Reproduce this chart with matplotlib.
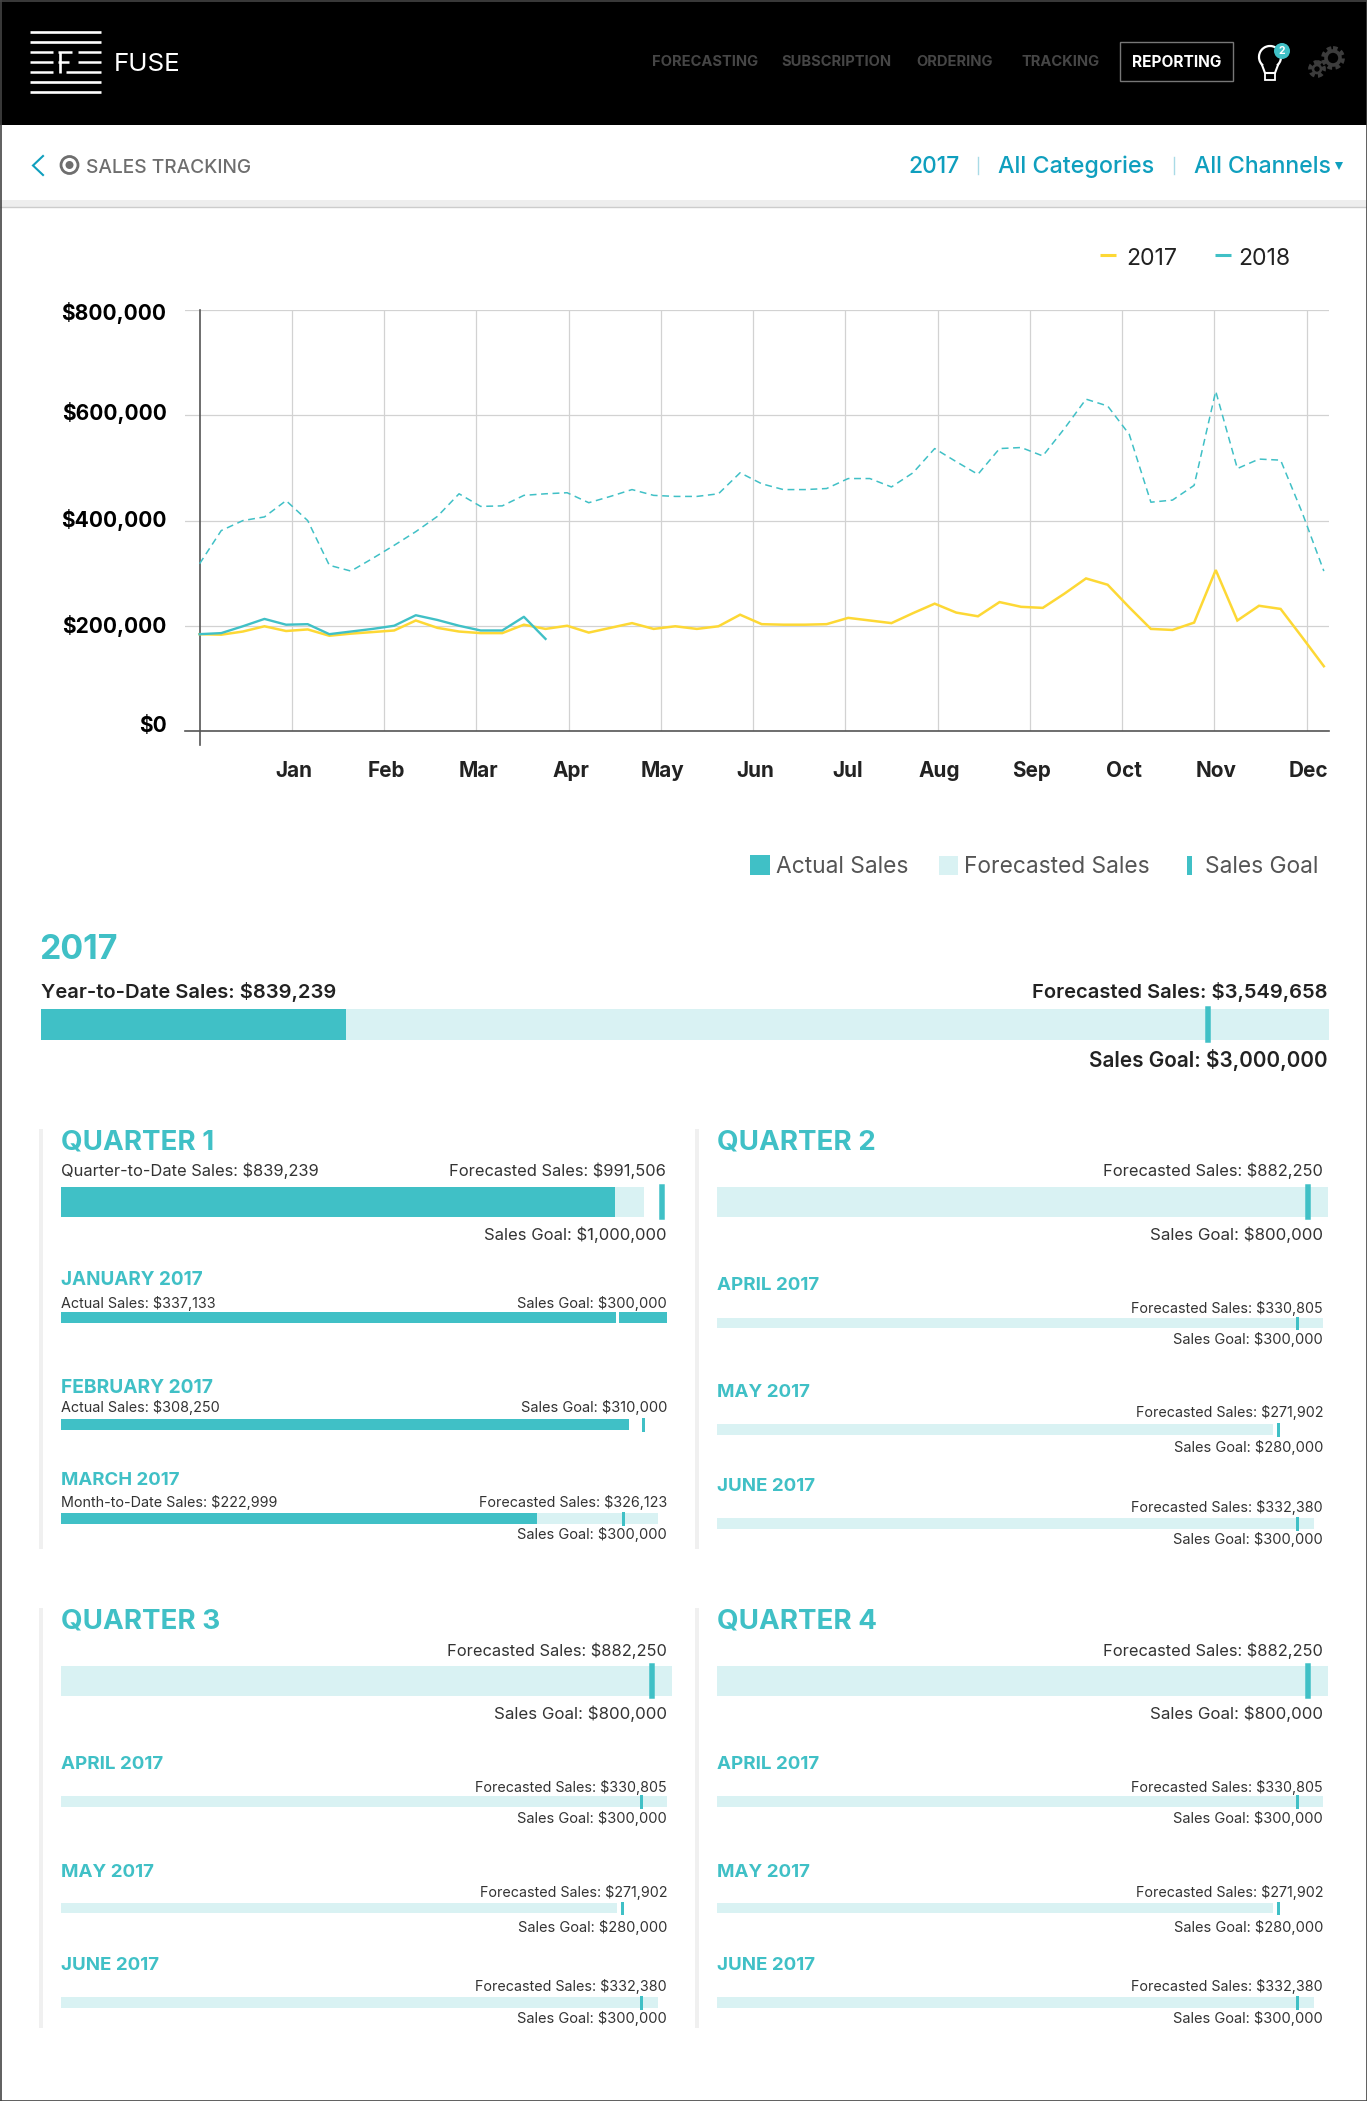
import matplotlib
matplotlib.use("Agg")
import matplotlib.pyplot as plt
from matplotlib.patches import Rectangle, Circle, Polygon, Arc
from matplotlib.transforms import ScaledTranslation

# ---------- data ----------
MONTHS = ["Jan", "Feb", "Mar", "Apr", "May", "Jun", "Jul", "Aug", "Sep", "Oct", "Nov", "Dec"]
Y_TICKS = [0, 200000, 400000, 600000, 800000]
Y_LABELS = ["$0", "$200,000", "$400,000", "$600,000", "$800,000"]
SALES_2017 = [184, 183, 189, 199, 190, 193, 181, 185, 188, 191, 210, 196, 189, 186, 186, 202, 194, 200,
              187, 196, 205, 194, 199, 194, 199, 221, 203, 202, 202, 203, 215, 210, 205, 224, 242, 225,
              218, 245, 236, 234, 261, 290, 278, 235, 194, 192, 206, 306, 210, 238, 232, 178, 123]
FORECAST_2018 = [318, 381, 400, 407, 438, 400, 315, 304, 328, 353, 379, 408, 451, 427, 428, 448, 451, 453,
                 434, 446, 459, 448, 446, 446, 451, 491, 470, 459, 459, 461, 480, 480, 464, 491, 537, 512,
                 488, 537, 539, 523, 575, 631, 618, 564, 435, 439, 467, 646, 499, 517, 515, 415, 304]
ACTUAL_2018 = [184, 186, 199, 213, 202, 203, 184, 189, 194, 200, 220, 211, 200, 191, 191, 217, 175]

# Bar ends, read as percent of each row's track width
YEAR_BAR = dict(actual=23.7, forecast=100.0, goal=90.6)
Q1_BAR = dict(actual=91.4, forecast=96.2, goal=99.2)
JAN_BAR = dict(actual=100.0, forecast=0, goal=91.8)
FEB_BAR = dict(actual=93.7, forecast=0, goal=96.0)
MAR_BAR = dict(actual=78.5, forecast=98.5, goal=92.8)
QF_BAR = dict(actual=0, forecast=100.8, goal=97.5)
APR_BAR = dict(actual=0, forecast=100.0, goal=95.7)
MAY_BAR = dict(actual=0, forecast=91.7, goal=92.5)
JUN_BAR = dict(actual=0, forecast=98.5, goal=95.7)

# ---------- style ----------
W, H = 1367, 2101
TEAL = "#40c0c6"
LIGHT = "#d9f2f3"
YELLOW = "#fdd835"
BLUE = "#0f9fbe"
FONT = ["Inter", "Lato", "DejaVu Sans"]
plt.rcParams["font.family"] = FONT

fig = plt.figure(figsize=(W / 100, H / 100), dpi=100, facecolor="white")
ui = fig.add_axes([0, 0, 1, 1], zorder=0)
ui.set_xlim(0, W)
ui.set_ylim(H, 0)
ui.axis("off")


def px_axes(left, right, top, bottom, z=2):
    return fig.add_axes([left / W, 1 - bottom / H, (right - left) / W, (bottom - top) / H], zorder=z)


def T(x, yc, s, size, color="#333333", ha="left", weight="normal"):
    ui.text(x, yc + size / 2, s, fontsize=size, color=color, ha=ha, va="baseline", weight=weight)


def R(x0, y0, x1, y1, color, z=1):
    ui.add_patch(Rectangle((x0, y0), x1 - x0, y1 - y0, fc=color, ec="none", zorder=z))


# ---------- header ----------
R(0, 0, W, 125, "black")
for y in [32, 42, 82, 92]:
    ui.plot([30, 101], [y, y], color="white", lw=1.9, solid_capstyle="butt")
for y in [52, 62, 72]:
    ui.plot([30, 53], [y, y], color="white", lw=1.8, solid_capstyle="butt")
ui.plot([78, 101], [52, 52], color="white", lw=1.8, solid_capstyle="butt")
ui.plot([78, 101], [62, 62], color="white", lw=1.8, solid_capstyle="butt")
ui.plot([66, 101], [72, 72], color="white", lw=1.8, solid_capstyle="butt")
ui.plot([59.5, 59.5], [52, 73], color="white", lw=1.9, solid_capstyle="butt")
ui.plot([58, 72], [52, 52], color="white", lw=1.8, solid_capstyle="butt")
ui.plot([58, 69], [62, 62], color="white", lw=1.8, solid_capstyle="butt")
T(114, 62, "FUSE", 18.7, "white")

for x, s in [(652, "FORECASTING"), (781, "SUBSCRIPTION"), (916, "ORDERING"), (1021, "TRACKING")]:
    T(x, 61, s, 10.6, "#464646", weight="bold")
ui.add_patch(Rectangle((1120, 42), 113, 39, fc="black", ec="#777777", lw=1, zorder=2))
T(1177, 61, "REPORTING", 11.1, "white", ha="center", weight="bold")

# bulb
ui.add_patch(Arc((1270, 57), 22, 22, theta1=130, theta2=50, ec="white", lw=1.6, zorder=3))
ui.plot([1262, 1265, 1275, 1278], [65, 73, 73, 65], color="white", lw=1.5, zorder=3)
ui.add_patch(Rectangle((1265, 73), 10, 7, fc="none", ec="white", lw=1.3, zorder=3))
ui.add_patch(Circle((1282, 51), 8, fc=TEAL, ec="none", zorder=4))
ui.text(1282, 51, "2", color="white", fontsize=7.5, weight="bold", ha="center", va="center", zorder=5)
# gears
for cx, cy, r, tooth in [(1333, 58, 8.5, 2.6), (1317, 69, 5.5, 1.9)]:
    ui.add_patch(Circle((cx, cy), r + 1.3, fc="none", ec="#3c3c3c", lw=3, ls=(0, (1.1, 0.8)), zorder=3))
    ui.add_patch(Circle((cx, cy), r - 1.5, fc="none", ec="#3c3c3c", lw=tooth, zorder=3))

# ---------- sub header ----------
R(0, 200, W, 207, "#eeeeee")
ui.plot([0, W], [207, 207], color="#cccccc", lw=1)
ui.plot([43, 33, 43], [156, 165.5, 175], color=BLUE, lw=1.5, solid_joinstyle="miter")
ui.add_patch(Circle((69.5, 165), 8.5, fc="none", ec="#6e6e6e", lw=2))
ui.add_patch(Circle((69.5, 165), 4, fc="#6e6e6e", ec="none"))
T(86, 166, "SALES TRACKING", 13.8, "#6e6e6e", weight="medium")
T(908, 165, "2017", 16.4, BLUE, weight="medium")
T(998, 165, "All Categories", 16.8, BLUE, weight="medium")
T(1194, 165, "All Channels", 16.6, BLUE, weight="medium")
ui.plot([978, 978], [157, 174], color="#a9dbe6", lw=1)
ui.plot([1173.5, 1173.5], [157, 174], color="#a9dbe6", lw=1)
ui.add_patch(Polygon([[1335, 162], [1343, 162], [1339, 170]], fc=BLUE, ec="none"))

# ---------- line chart ----------
WEEK = 21.62
X_ORIGIN_PX = 199.6
ax = px_axes(185, 1329, 310.3, 730.9)
ax.set_xlim((185 - X_ORIGIN_PX) / WEEK, (1329 - X_ORIGIN_PX) / WEEK)
ax.set_ylim(0, 800000)
ax.patch.set_alpha(0)
for s in ["top", "left", "right"]:
    ax.spines[s].set_visible(False)
ax.spines["bottom"].set_color("#555555")
ax.spines["bottom"].set_linewidth(1.2)
month_pos = [(i + 1) * 92.25 / WEEK for i in range(12)]
ax.set_xticks(month_pos)
ax.set_xticklabels(MONTHS, fontsize=14.9, weight="bold", color="#222222")
ax.set_yticks(Y_TICKS)
ax.set_yticklabels(Y_LABELS, fontsize=15.1, weight="bold", color="black")
ax.tick_params(axis="both", length=0)
ax.tick_params(axis="x", pad=22)
ax.tick_params(axis="y", pad=13.3)
ax.grid(True, color="#d2d2d2", lw=0.9)
ax.set_axisbelow(True)
for lab, dy in zip(ax.get_yticklabels(), [7, 2, 3, 4, -1]):
    lab.set_transform(lab.get_transform() + ScaledTranslation(0, dy / 100, fig.dpi_scale_trans))
for lab in ax.get_xticklabels():
    lab.set_transform(lab.get_transform() + ScaledTranslation(2 / 100, 0, fig.dpi_scale_trans))
ax.axvline(0, ymin=-14 / 420.6, ymax=1, color="#555555", lw=1.2, clip_on=False, zorder=2.5)
weeks = list(range(len(SALES_2017)))
ax.plot(weeks, [v * 1000 for v in FORECAST_2018], color=TEAL, lw=1.1, ls=(0, (4.5, 3)), zorder=3, clip_on=False)
ax.plot(weeks, [v * 1000 for v in SALES_2017], color=YELLOW, lw=1.8, zorder=4, clip_on=False, solid_joinstyle="miter")
ax.plot(weeks[:len(ACTUAL_2018)], [v * 1000 for v in ACTUAL_2018], color=TEAL, lw=1.7, zorder=5, clip_on=False)

# chart legend
ui.plot([1100, 1116], [255, 255], color=YELLOW, lw=2.2, solid_capstyle="butt")
T(1126, 257, "2017", 16.6, "#222222")
ui.plot([1215, 1231], [255, 255], color=TEAL, lw=2.2, solid_capstyle="butt")
T(1238, 257, "2018", 16.6, "#222222")

# bar legend
R(750, 855, 770, 875, TEAL)
T(776, 865, "Actual Sales", 16.4, "#555555")
R(939, 856, 958, 875, LIGHT)
T(964, 865, "Forecasted Sales", 16.4, "#555555")
R(1187, 856, 1192, 875, TEAL)
T(1205, 865, "Sales Goal", 16.4, "#555555")


# ---------- bars ----------
def bar(left, right, top, bottom, vals, goal_px=3.0, goal_color=TEAL):
    a = px_axes(left, right, top, bottom)
    a.set_xlim(0, 100)
    a.set_ylim(0, 1)
    a.axis("off")
    a.barh(0.5, vals["forecast"], height=1, left=0, color=LIGHT, clip_on=False, zorder=1)
    a.barh(0.5, vals["actual"], height=1, left=0, color=TEAL, clip_on=False, zorder=2)
    a.axvline(vals["goal"], color=goal_color, lw=goal_px * 0.72, zorder=3, clip_on=False)
    return a


DARK = "#222222"
TXT = "#333333"

T(39, 947, "2017", 24.4, TEAL, weight="bold")
T(41, 991, "Year-to-Date Sales: $839,239", 14.5, DARK, weight="semibold")
T(1328, 991, "Forecasted Sales: $3,549,658", 14.5, DARK, ha="right", weight="semibold")
T(1328, 1060, "Sales Goal: $3,000,000", 14.95, DARK, ha="right", weight="semibold")
bar(41, 1329, 1009, 1040, YEAR_BAR, goal_px=5.5)

for x, y0, y1 in [(39, 1129, 1549), (695, 1129, 1549), (39, 1608, 2028), (695, 1608, 2028)]:
    R(x, y0, x + 4, y1, "#f0f0f0")

# Quarter 1
T(61, 1139.5, "QUARTER 1", 20, TEAL, weight="bold")
T(61, 1170.5, "Quarter-to-Date Sales: $839,239", 11.9, TXT)
T(666, 1170.5, "Forecasted Sales: $991,506", 11.85, TXT, ha="right")
bar(61, 667, 1187, 1217, Q1_BAR, goal_px=5.5)
T(666, 1234, "Sales Goal: $1,000,000", 12, TXT, ha="right")

T(61, 1278, "JANUARY 2017", 13.6, TEAL, weight="bold")
T(61, 1302.6, "Actual Sales: $337,133", 10.35, TXT)
T(667, 1302.6, "Sales Goal: $300,000", 10.55, TXT, ha="right")
bar(61, 667, 1312, 1323, JAN_BAR, goal_color="white")

T(61, 1386, "FEBRUARY 2017", 13.8, TEAL, weight="bold")
T(61, 1407, "Actual Sales: $308,250", 10.35, TXT)
T(667, 1407, "Sales Goal: $310,000", 10.55, TXT, ha="right")
bar(61, 667, 1419, 1429.5, FEB_BAR)

T(61, 1478.6, "MARCH 2017", 13.4, TEAL, weight="bold")
T(61, 1501.6, "Month-to-Date Sales: $222,999", 10.35, TXT)
T(667, 1501.6, "Forecasted Sales: $326,123", 10.3, TXT, ha="right")
bar(61, 667, 1513, 1523.6, MAR_BAR)
T(667, 1534, "Sales Goal: $300,000", 10.55, TXT, ha="right")

MONTH_ROWS_TOP = [
    (1283.6, 1307.5, 1317.5, 1328, 1338.5, "APRIL 2017", "$330,805", "$300,000", APR_BAR),
    (1390.6, 1412, 1424, 1434.6, 1447, "MAY 2017", "$271,902", "$280,000", MAY_BAR),
    (1484, 1507, 1518, 1529, 1539, "JUNE 2017", "$332,380", "$300,000", JUN_BAR),
]
MONTH_ROWS_BOTTOM = [
    (1762, 1787, 1796, 1807, 1818, "APRIL 2017", "$330,805", "$300,000", APR_BAR),
    (1870, 1892, 1902.7, 1913, 1927, "MAY 2017", "$271,902", "$280,000", MAY_BAR),
    (1963, 1986, 1997, 2008, 2018, "JUNE 2017", "$332,380", "$300,000", JUN_BAR),
]


def quarter(name, x, yt, yf, yb0, yb1, yg, rows):
    T(x, yt, name, 20, TEAL, weight="bold")
    T(x + 605.5, yf, "Forecasted Sales: $882,250", 11.85, TXT, ha="right")
    bar(x, x + 606, yb0, yb1, QF_BAR, goal_px=5.5)
    T(x + 605.5, yg, "Sales Goal: $800,000", 12.2, TXT, ha="right")
    for r in rows:
        T(x, r[0], r[5], 13.5, TEAL, weight="bold")
        T(x + 606, r[1], "Forecasted Sales: " + r[6], 10.3, TXT, ha="right")
        bar(x, x + 606, r[2], r[3], r[8])
        T(x + 606, r[4], "Sales Goal: " + r[7], 10.55, TXT, ha="right")


quarter("QUARTER 2", 717, 1139.5, 1170.5, 1187, 1217, 1234, MONTH_ROWS_TOP)
quarter("QUARTER 3", 61, 1618, 1650, 1666, 1696, 1713, MONTH_ROWS_BOTTOM)
quarter("QUARTER 4", 717, 1618, 1650, 1666, 1696, 1713, MONTH_ROWS_BOTTOM)

# frame
for xs, ys in [([0.5, 0.5], [0, H]), ([W - 0.5, W - 0.5], [0, H]), ([0, W], [H - 0.5, H - 0.5]), ([0, W], [0.5, 0.5])]:
    ui.plot(xs, ys, color="#444444", lw=1.2, zorder=6)

fig.savefig("out.png", dpi=100)
